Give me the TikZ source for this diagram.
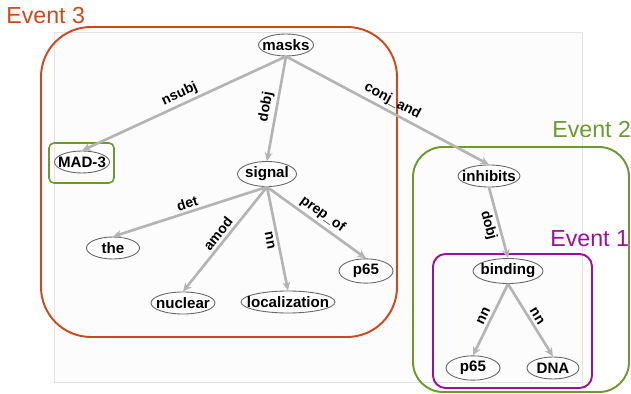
\documentclass[tikz,border=0pt]{standalone}
\usepackage{fontspec}
\setmainfont{Liberation Sans}
\usetikzlibrary{arrows.meta, shapes.geometric}
\definecolor{evthree}{RGB}{206,72,28}
\definecolor{evtwo}{RGB}{108,154,48}
\definecolor{evone}{RGB}{155,16,155}
\definecolor{edgegray}{RGB}{180,180,180}

\begin{document}
\begin{tikzpicture}[x=0.02cm, y=-0.02cm, >={Stealth[length=5pt,width=4.5pt]},
  word/.style={ellipse, draw=black!60, fill=white, line width=0.5pt, inner xsep=-4.5pt, inner ysep=1pt,
    minimum height=0.44cm, font=\fontsize{8.6}{10}\selectfont\bfseries},
  dep/.style={->, draw=edgegray, line width=1.5pt},
  lab/.style={midway, sloped, inner sep=1.5pt, font=\fontsize{8}{9}\selectfont\bfseries},
  evbox/.style={line width=1.1pt},
  evlab/.style={anchor=base west, inner sep=0pt, font=\fontsize{13.2}{15}\selectfont}]
  \useasboundingbox (0,0) rectangle (631,394);
  \draw[fill=gray!2, draw=gray!22] (54,32) rectangle (582,382);

  % event boxes
  \draw[evbox, evthree, rounded corners=1cm] (41,27) rectangle (397,337);
  \node[evlab, evthree] (ev3) at (6,24) {Event 3};
  \draw[evbox, evtwo, rounded corners=0.6cm] (413,147) rectangle (629,392);
  \node[evlab, evtwo] (ev2) at (552,138) {Event 2};
  \draw[evbox, evone, rounded corners=0.25cm] (433,254) rectangle (592,388);
  \node[evlab, evone] (ev1) at (550,247) {Event 1};
  \draw[evbox, evtwo, line width=0.9pt, rounded corners=0.1cm] (49,143) rectangle (114,183);

  \node[word, minimum width=1.1cm] (masks) at (286,45) {masks};
  \node[word, minimum width=1.1cm] (mad) at (82,162) {MAD-3};
  \node[word, minimum width=1.18cm] (signal) at (267,174) {signal};
  \node[word, minimum width=1.06cm] (the) at (113,248) {the};
  \node[word, minimum width=1.28cm] (nuclear) at (183,303) {nuclear};
  \node[word, minimum width=1.8cm] (local) at (288,302) {localization};
  \node[word, minimum width=1.08cm] (pa) at (366,271) {p65};
  \node[word, minimum width=1.24cm] (inhibits) at (489,176) {inhibits};
  \node[word, minimum width=1.4cm] (binding) at (508,271) {binding};
  \node[word, minimum width=1.08cm] (pb) at (473,368) {p65};
  \node[word, minimum width=1.04cm] (dna) at (553,368) {DNA};

  \draw[dep] (masks.south) -- (mad.north) node[lab, above]{nsubj};
  \draw[dep] (masks.south) -- (signal.north) node[lab, above]{dobj};
  \draw[dep] (masks.south) -- (inhibits.north) node[lab, above]{conj\_and};
  \draw[dep] (signal.south) -- (the.north) node[lab, above]{det};
  \draw[dep] (signal.south) -- (nuclear.north) node[lab, above]{amod};
  \draw[dep] (signal.south) -- (local.north) node[lab, below]{nn};
  \draw[dep] (signal.south) -- (pa.north) node[lab, above]{prep\_of};
  \draw[dep] (inhibits.south) -- (binding.north) node[lab, below]{dobj};
  \draw[dep] (binding.south) -- (pb.north) node[lab, above]{nn};
  \draw[dep] (binding.south) -- (dna.north) node[lab, above]{nn};
\end{tikzpicture}
\end{document}
